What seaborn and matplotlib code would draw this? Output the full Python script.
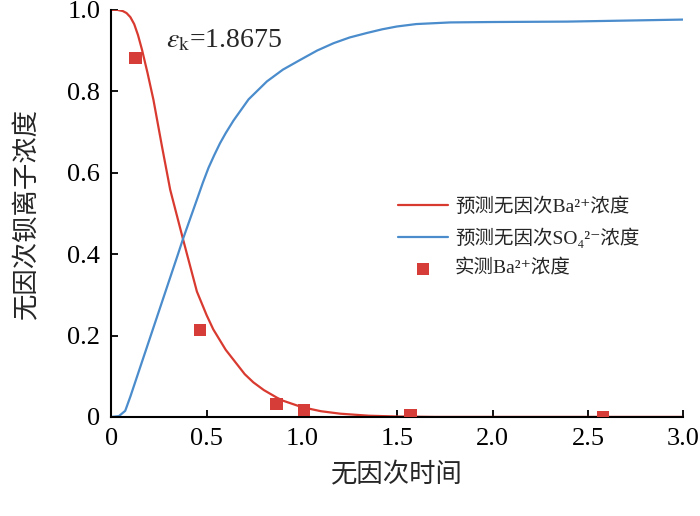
import numpy as np
import pandas as pd
import seaborn as sns
import matplotlib
matplotlib.use("Agg")
import matplotlib.pyplot as plt
from matplotlib.ticker import FuncFormatter

# predicted Ba2+ curve
t_ba = [0, 0.03, 0.06, 0.08, 0.1, 0.12, 0.14, 0.161, 0.19, 0.221, 0.266, 0.309, 0.376,
        0.449, 0.5, 0.535, 0.6, 0.7, 0.745, 0.8, 0.87, 0.9, 1.0, 1.1, 1.2, 1.35,
        1.5, 1.7, 2.0, 2.5, 3.0]
c_ba = [1.0, 1.0, 0.997, 0.992, 0.982, 0.965, 0.938, 0.902, 0.845, 0.779, 0.664, 0.558, 0.437,
        0.308, 0.25, 0.215, 0.165, 0.105, 0.085, 0.066, 0.047, 0.04, 0.024, 0.014, 0.008, 0.003,
        0.001, 0.0, 0.0, 0.0, 0.0]

# predicted SO4 2- curve
t_so4 = [0, 0.04, 0.073, 0.1, 0.15, 0.2, 0.25, 0.3, 0.35, 0.376, 0.45, 0.48, 0.51, 0.54,
         0.57, 0.6, 0.641, 0.72, 0.816, 0.9, 0.991, 1.08, 1.166, 1.25, 1.34, 1.42, 1.498,
         1.6, 1.778, 2.0, 2.39, 3.0]
c_so4 = [0.0, 0.002, 0.015, 0.05, 0.12, 0.19, 0.26, 0.33, 0.40, 0.437, 0.535, 0.575, 0.612,
         0.643, 0.672, 0.697, 0.728, 0.78, 0.824, 0.853, 0.877, 0.90, 0.918, 0.932, 0.943,
         0.952, 0.959, 0.965, 0.969, 0.970, 0.971, 0.976]

# measured Ba2+
t_meas = [0.126, 0.465, 0.867, 1.01, 1.57, 2.58]
c_meas = [0.882, 0.213, 0.032, 0.017, 0.004, 0.0]

sns.set_style("ticks")
plt.rcParams['font.family'] = ['Liberation Serif', 'Noto Sans CJK SC', 'DejaVu Sans']
plt.rcParams['mathtext.fontset'] = 'stix'
plt.rcParams['axes.unicode_minus'] = False

fig, ax = plt.subplots(figsize=(7, 5.16), dpi=100)
fig.subplots_adjust(left=0.159, right=0.976, top=0.981, bottom=0.192)

red = "#d93a30"
blue = "#4a8ccc"

df_ba = pd.DataFrame({"t": t_ba, "c": c_ba})
df_so4 = pd.DataFrame({"t": t_so4, "c": c_so4})
df_meas = pd.DataFrame({"t": t_meas, "c": c_meas})

sns.lineplot(data=df_ba, x="t", y="c", ax=ax, color=red, lw=1.6,
             label="预测无因次Ba²⁺浓度")
sns.lineplot(data=df_so4, x="t", y="c", ax=ax, color=blue, lw=1.6,
             label="预测无因次SO₄²⁻浓度")
sns.scatterplot(data=df_meas, x="t", y="c", ax=ax, color="#d63c38", marker="s",
                s=80, edgecolor="none", label="实测Ba²⁺浓度", zorder=3)

ax.set_xlim(0, 3.0)
ax.set_ylim(0, 1.0)
ax.set_xticks([0, 0.5, 1.0, 1.5, 2.0, 2.5, 3.0])
ax.set_yticks([0, 0.2, 0.4, 0.6, 0.8, 1.0])
fmt = FuncFormatter(lambda v, p: "0" if abs(v) < 1e-9 else f"{v:.1f}")
ax.xaxis.set_major_formatter(fmt)
ax.yaxis.set_major_formatter(fmt)
ax.tick_params(direction="in", length=5, width=1.3, labelsize=19, colors="black")
ax.tick_params(axis="x", pad=8)
ax.tick_params(axis="y", pad=8)
for s in ["left", "bottom"]:
    ax.spines[s].set_linewidth(1.5)
    ax.spines[s].set_color("black")
sns.despine(ax=ax)

ax.set_xlabel("无因次时间", fontsize=19, labelpad=9)
ax.set_ylabel("无因次钡离子浓度", fontsize=19, labelpad=20)

ax.text(0.095, 0.925, r"$\varepsilon_{\mathrm{k}}$=1.8675", transform=ax.transAxes,
        fontsize=20, va="center", ha="left")

ax.legend(loc="center left", bbox_to_anchor=(0.47, 0.44), frameon=False,
          fontsize=14, handlelength=2.6, handletextpad=0.35, labelspacing=0.6)

fig.savefig("out.png", dpi=100)
